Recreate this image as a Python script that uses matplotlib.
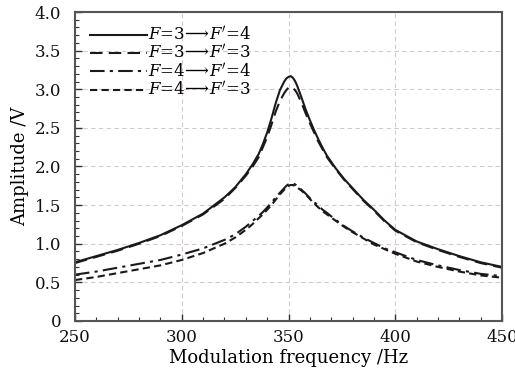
import matplotlib
matplotlib.use('Agg')
import matplotlib.pyplot as plt
from matplotlib.ticker import MultipleLocator, FuncFormatter

plt.rcParams['font.family'] = ['DejaVu Serif']
plt.rcParams['mathtext.fontset'] = 'dejavuserif'

# Modulation frequency (Hz)
freq = [250, 260, 270, 280, 290, 300, 310, 320,
        325, 330, 333, 336, 338, 340, 342, 344, 346, 348,
        349, 350, 351, 352, 353, 354, 356, 358, 360, 362,
        364, 366, 368, 372, 376, 380, 385, 390, 395, 400,
        410, 420, 430, 440, 450]

# F=3 -> F'=4
amp_34 = [0.76, 0.84, 0.92, 1.01, 1.11, 1.24, 1.39, 1.60,
          1.73, 1.90, 2.02, 2.16, 2.29, 2.44, 2.62, 2.82, 2.99, 3.10,
          3.14, 3.16, 3.17, 3.15, 3.11, 3.05, 2.90, 2.74, 2.60, 2.47,
          2.35, 2.24, 2.14, 1.98, 1.84, 1.72, 1.57, 1.44, 1.30, 1.18,
          1.03, 0.93, 0.84, 0.76, 0.70]
# F=3 -> F'=3
amp_33 = [0.75, 0.83, 0.91, 1.00, 1.10, 1.23, 1.38, 1.58,
          1.72, 1.88, 1.99, 2.12, 2.25, 2.38, 2.54, 2.71, 2.85, 2.95,
          2.99, 3.02, 3.03, 3.02, 2.99, 2.95, 2.83, 2.69, 2.56, 2.44,
          2.32, 2.22, 2.12, 1.97, 1.83, 1.71, 1.56, 1.43, 1.29, 1.17,
          1.02, 0.92, 0.83, 0.75, 0.69]
# F=4 -> F'=4
amp_44 = [0.60, 0.64, 0.69, 0.74, 0.79, 0.86, 0.94, 1.05,
          1.12, 1.22, 1.29, 1.36, 1.41, 1.47, 1.53, 1.60, 1.66, 1.72,
          1.75, 1.77, 1.78, 1.78, 1.77, 1.75, 1.70, 1.65, 1.59, 1.54,
          1.49, 1.44, 1.40, 1.31, 1.23, 1.16, 1.08, 1.01, 0.94, 0.89,
          0.79, 0.72, 0.66, 0.61, 0.58]
# F=4 -> F'=3
amp_43 = [0.53, 0.57, 0.62, 0.67, 0.72, 0.79, 0.88, 1.00,
          1.08, 1.18, 1.25, 1.33, 1.38, 1.44, 1.50, 1.57, 1.64, 1.70,
          1.73, 1.75, 1.76, 1.76, 1.75, 1.73, 1.69, 1.64, 1.58, 1.52,
          1.47, 1.42, 1.38, 1.30, 1.22, 1.15, 1.07, 0.99, 0.93, 0.87,
          0.77, 0.70, 0.64, 0.59, 0.56]

labels = [r"$F$=3$\!\longrightarrow\!$$F'$=4", r"$F$=3$\!\longrightarrow\!$$F'$=3",
          r"$F$=4$\!\longrightarrow\!$$F'$=4", r"$F$=4$\!\longrightarrow\!$$F'$=3"]

fig = plt.figure(figsize=(5.15, 3.8), dpi=100)
ax = fig.add_axes([0.1456, 0.1553, 0.8292, 0.8131])

lc = '#1a1a1a'
ax.plot(freq, amp_34, color=lc, lw=1.5, ls='-', label=labels[0])
ax.plot(freq, amp_33, color=lc, lw=1.5, ls=(0, (6, 3)), label=labels[1])
ax.plot(freq, amp_44, color=lc, lw=1.5, ls=(0, (7, 2.5, 1.5, 2.5)), label=labels[2])
ax.plot(freq, amp_43, color=lc, lw=1.5, ls=(0, (3.5, 2)), label=labels[3])

ax.set_xlim(250, 450)
ax.set_ylim(0, 4.0)
ax.xaxis.set_major_locator(MultipleLocator(50))
ax.xaxis.set_minor_locator(MultipleLocator(10))
ax.yaxis.set_major_locator(MultipleLocator(0.5))
ax.yaxis.set_minor_locator(MultipleLocator(0.1))
ax.yaxis.set_major_formatter(FuncFormatter(lambda v, p: '0' if abs(v) < 1e-9 else f'{v:.1f}'))

ax.tick_params(which='both', direction='in', top=False, right=False, labelsize=12, colors='#333333')
ax.tick_params(which='major', length=5, width=1)
ax.tick_params(which='minor', length=3, width=0.8)
ax.tick_params(axis='x', pad=6)
ax.tick_params(axis='y', pad=10)
for lab in ax.get_xticklabels() + ax.get_yticklabels():
    lab.set_color('#111111')

for s in ax.spines.values():
    s.set_color('#555555')
    s.set_linewidth(1.5)

ax.grid(True, which='major', ls=(0, (4, 3)), color='#d9c9c6', lw=0.8)

ax.set_xlabel('Modulation frequency /Hz', fontsize=13, labelpad=2)
ax.set_ylabel('Amplitude /V', fontsize=13, labelpad=4)

ax.legend(loc='upper left', bbox_to_anchor=(0.02, 0.975), frameon=False, fontsize=12,
          handlelength=3.4, handletextpad=0.05, labelspacing=0.0, borderaxespad=0)

fig.savefig('out.png', dpi=100)
